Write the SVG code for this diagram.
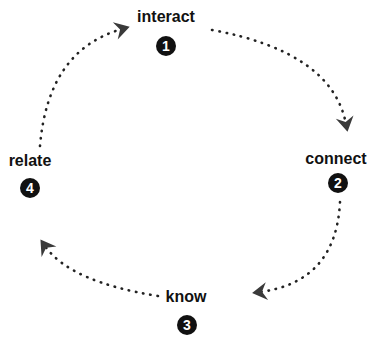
<svg xmlns="http://www.w3.org/2000/svg" width="372" height="348" viewBox="0 0 372 348">
  <style>
    .label { font-family: "Liberation Sans", Arial, sans-serif; font-weight: bold; font-size: 16px; fill: #111; text-anchor: middle; }
    .num { font-family: "Liberation Sans", Arial, sans-serif; font-weight: bold; font-size: 14px; fill: #fff; text-anchor: middle; }
    .badge { fill: #111; }
    .link { fill: none; stroke: #222; stroke-width: 2.6; stroke-linecap: round; stroke-dasharray: 0.5 6.8; }
  </style>
  <defs>
    <!-- open chevron arrowhead -->
    <marker id="head" viewBox="0 0 20 20" refX="9" refY="10" markerWidth="20" markerHeight="20" markerUnits="userSpaceOnUse" orient="auto">
      <path d="M2,1 L17,10 L2,19 L7,10 Z" fill="#3a3a3a"/>
    </marker>
  </defs>

  <g id="connectors">
    <path class="link" d="M212,30 Q332,52 346,124" marker-end="url(#head)"/>
    <path class="link" d="M340,202 Q336,282 260,292" marker-end="url(#head)"/>
    <path class="link" d="M158,296 Q70,282 45,246" marker-end="url(#head)"/>
    <path class="link" d="M40,146 Q48,50 122,29" marker-end="url(#head)"/>
  </g>

  <g id="node-interact">
    <text class="label" x="166" y="22">interact</text>
    <circle class="badge" cx="166" cy="46" r="10"/>
    <text class="num" x="166" y="51">1</text>
  </g>
  <g id="node-connect">
    <text class="label" x="336" y="164">connect</text>
    <circle class="badge" cx="338" cy="183" r="10"/>
    <text class="num" x="338" y="188">2</text>
  </g>
  <g id="node-know">
    <text class="label" x="186" y="302">know</text>
    <circle class="badge" cx="187" cy="325" r="10"/>
    <text class="num" x="187" y="330">3</text>
  </g>
  <g id="node-relate">
    <text class="label" x="30" y="166">relate</text>
    <circle class="badge" cx="30" cy="188" r="10"/>
    <text class="num" x="30" y="193">4</text>
  </g>
</svg>
